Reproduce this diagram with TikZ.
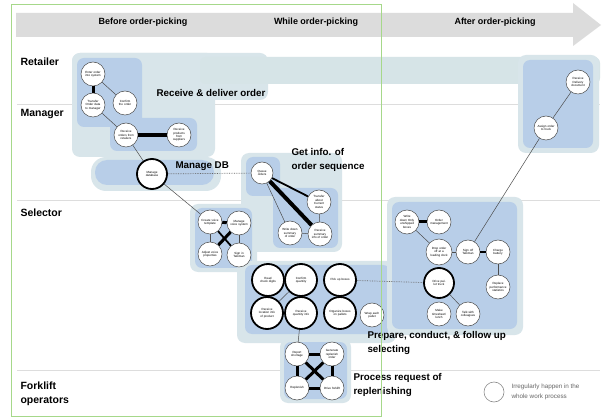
\documentclass[tikz,border=0pt]{standalone}
\usepackage{fontspec}
\setmainfont{Liberation Sans}
\definecolor{laneblue}{HTML}{B8CEE8}
\definecolor{halo}{HTML}{D8E5EA}
\definecolor{bandcol}{HTML}{D6E4E7}
\definecolor{arrowgray}{HTML}{DCDCDC}
\definecolor{framegreen}{HTML}{A6D88A}
\definecolor{rulegray}{HTML}{DDDDDD}
\begin{document}
\begin{tikzpicture}[x=1pt,y=-1pt,
  act/.style={circle, draw=black!70, line width=0.5pt, fill=white, inner sep=0pt,
    minimum size=24pt, align=center, text width=18pt,
    font=\fontsize{3}{3.4}\selectfont},
  keyact/.style={act, draw=black, line width=1.8pt, minimum size=32pt, text width=22pt},
  lnk/.style={draw=black!70, line width=0.5pt},
  bar/.style={draw=black, line width=3pt},
  midbar/.style={draw=black, line width=1.8pt},
  dotlink/.style={draw=black!60, line width=0.7pt, densely dotted},
  lanelabel/.style={anchor=west, align=left, font=\bfseries\fontsize{10.5}{14}\selectfont},
  phase/.style={font=\bfseries\fontsize{9}{10}\selectfont},
  grouplabel/.style={anchor=west, align=left, font=\bfseries\fontsize{9.8}{14}\selectfont},
  haloreg/.style={fill=halo, rounded corners=8pt},
  bluereg/.style={fill=laneblue, rounded corners=7pt}]
\useasboundingbox (0,0) rectangle (604,419);
\fill[white] (0,0) rectangle (604,419);

% lane separators
\draw[rulegray, line width=0.6pt] (17,104) -- (600,104);
\draw[rulegray, line width=0.6pt] (17,200) -- (600,200);
\draw[rulegray, line width=0.6pt] (17,370) -- (600,370);

% time arrow
\fill[arrowgray] (16,13) -- (573,13) -- (573,3) -- (601,25) -- (573,46) -- (573,37) -- (16,37) -- cycle;
\node[phase] (ph1) at (143,22) {Before order-picking};
\node[phase] (ph2) at (316,22) {While order-picking};
\node[phase] (ph3) at (495,22) {After order-picking};

% lanes
\node[lanelabel] (l1) at (17,62) {Retailer};
\node[lanelabel] (l2) at (17,114) {Manager};
\node[lanelabel] (l3) at (17,213) {Selector};
\node[lanelabel] (l4) at (17,393.5) {Forklift\\operators};

% group backgrounds
\fill[haloreg] (72,53) rectangle (215,157);
\fill[haloreg] (72,53) rectangle (268,100);
\fill[bandcol, rounded corners=6pt] (200,57) rectangle (600,84);
\fill[haloreg] (518,55) rectangle (599,153);
\fill[bluereg] (77,58) rectangle (142,127);
\fill[bluereg] (110,118) rectangle (197,151);
\fill[bluereg] (523,60) rectangle (593,148);

\fill[halo, rounded corners=15pt] (91,157) rectangle (221,191);
\fill[laneblue, rounded corners=12pt] (95,160) rectangle (214,185);

\fill[haloreg] (241,153) rectangle (342,252);
\fill[bluereg] (246,157) rectangle (280,196);
\fill[bluereg] (273,188) rectangle (338,248);

\fill[haloreg] (190,204) rectangle (257,272);
\fill[bluereg] (195,208) rectangle (252,268);

\fill[haloreg] (237,261) rectangle (396,343);
\fill[bluereg] (245,265) rectangle (390,334);

\fill[haloreg] (387,197) rectangle (523,335);
\fill[bluereg] (392,202) rectangle (517,329);

\fill[haloreg] (280,339) rectangle (351,403);
\fill[bluereg] (284,342) rectangle (347,399);

% group titles
\node[grouplabel] (g1) at (153,93) {Receive \& deliver order};
\node[grouplabel] (g2) at (172,166) {Manage DB};
\node[grouplabel] (g3) at (288,160) {Get info. of\\order sequence};
\node[grouplabel] (g4) at (364,343) {Prepare, conduct, \& follow up\\selecting};
\node[grouplabel] (g5) at (350,384.5) {Process request of\\replenishing};

% retailer / manager activities
\node[act] (enter) at (93,74) {Enter order into system};
\node[act] (transfer) at (93,105) {Transfer Order data to manager};
\node[act] (confirm) at (125,103) {Confirm the order};
\node[act] (rorders) at (126,135) {Receive orders from retailers};
\node[act] (rproducts) at (179,135) {Receive products from suppliers};
\node[keyact, minimum size=30pt] (mdb) at (152,174) {Manage database};

\node[act, minimum size=22pt] (queue) at (262,173) {Queue orders};
\node[act] (tstatus) at (319,202) {Transfer about Current status};
\node[act] (wsummary) at (290,233) {Write down summary of order};
\node[act] (rsummary) at (320,234) {Receive summary info of order};

% selector: voice setup
\node[act] (create) at (210,222) {Create voice template};
\node[act] (mvoice) at (239,223) {Manage voice system};
\node[act] (adjust) at (210,254) {Adjust voice properties};
\node[act] (signin) at (239,255) {Sign in Talkman};

% selector: picking
\node[keyact] (read) at (268,280) {Read check digits};
\node[keyact] (cqty) at (301,280) {Confirm quantity};
\node[keyact] (rloc) at (267,313) {Receive location info of product};
\node[keyact] (rqty) at (301,313) {Receive quantity info};
\node[keyact] (pick) at (340,280) {Pick up boxes};
\node[keyact] (organize) at (340,313) {Organize boxes on pallets};
\node[act] (wrap) at (372,315) {Wrap each pallet};

% selector: after picking
\node[act] (wunship) at (407,222) {Write down Only unshipped boxes};
\node[act] (omgmt) at (439,222) {Order management};
\node[act, minimum size=26pt] (drop) at (439,252) {Drop order off at a loading dock};
\node[act] (signoff) at (468,252) {Sign off Talkman};
\node[act] (charge) at (498,252) {Charge battery};
\node[act] (replace) at (498,287) {Replace performance statistics};
\node[keyact, minimum size=30pt] (drive) at (439,283) {Drive pallet truck};
\node[act] (lunch) at (439,314) {Make timesheet/ lunch};
\node[act] (talk) at (468,314) {Talk with colleagues};

\node[act] (rdelivery) at (578,82) {Receive Delivery document};
\node[act] (assign) at (546,128) {Assign order to truck};

% forklift operators
\node[act] (report) at (297,354) {Report shortage};
\node[act] (generate) at (332,354) {Generate replenish order};
\node[act] (replenish) at (297,388) {Replenish};
\node[act] (dforklift) at (332,388) {Drive forklift};

% connectors
\draw[bar] (enter) -- (transfer);
\draw[lnk] (enter) -- (confirm);
\draw[lnk] (transfer) -- (rorders);
\draw[draw=black, line width=4pt] (rorders) -- (rproducts);
\draw[lnk] (rorders) -- (mdb);
\draw[dotlink] (mdb) -- (queue);
\draw[lnk] (mdb) -- (create);
\draw[midbar] (queue) -- (tstatus);
\draw[draw=black, line width=4pt] (queue) -- (rsummary);
\draw[lnk] (queue) -- (wsummary);
\draw[lnk] (wsummary) -- (rsummary);
\draw[lnk] (tstatus) -- (rsummary);

\draw[bar] (create) -- (mvoice);
\draw[lnk] (create) -- (adjust);
\draw[lnk] (mvoice) -- (signin);
\draw[bar] (mvoice) -- (adjust);
\draw[midbar] (create) -- (signin);

\draw[lnk] (cqty) -- (rloc);
\draw[lnk] (rqty) -- (report);
\draw[dotlink] (pick) -- (drive);

\draw[bar] (wunship) -- (omgmt);
\draw[lnk] (wunship) -- (drop);
\draw[lnk] (drop) -- (signoff);
\draw[midbar] (signoff) -- (charge);
\draw[lnk] (charge) -- (replace);
\draw[lnk] (drive) -- (talk);
\draw[lnk] (signoff) -- (assign);
\draw[lnk] (assign) -- (rdelivery);

\draw[bar] (report) -- (generate);
\draw[bar] (report) -- (replenish);
\draw[bar] (generate) -- (dforklift);
\draw[bar] (replenish) -- (dforklift);
\draw[bar] (report) -- (dforklift);
\draw[bar] (generate) -- (replenish);

% legend
\node[circle, draw=black!45, line width=0.6pt, fill=white, minimum size=20pt, inner sep=0pt] (legc) at (494,392) {};
\node[anchor=west, align=left, text=black!60, font=\fontsize{6.3}{10}\selectfont] (legt) at (508,391.5) {Irregularly happen in the\\whole work process};

% frame around the picking period
\draw[framegreen, line width=1pt] (11,5) rectangle (381,416);
\end{tikzpicture}
\end{document}
